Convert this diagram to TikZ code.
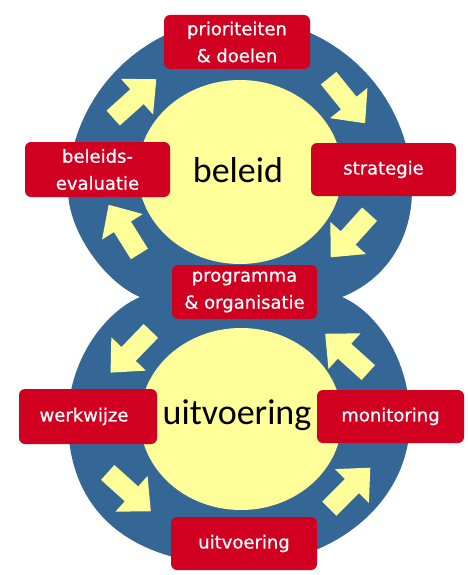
\documentclass[tikz,border=0pt]{standalone}
\usepackage{fontspec}
\setmainfont{DejaVu Sans}
\newfontfamily\boxfont[FakeBold=0.8]{DejaVu Sans}
\newfontfamily\calib{Carlito}
\definecolor{ringblue}{RGB}{52,102,150}
\definecolor{boxred}{RGB}{210,0,32}
\definecolor{coreyellow}{RGB}{255,255,153}
\begin{document}
\begin{tikzpicture}[x=1pt,y=-1pt,
  redbox/.style={fill=boxred, rounded corners=6pt, text=white, align=center,
    inner sep=0pt, font=\boxfont\fontsize{18}{27}\selectfont},
  coretext/.style={text=black, inner sep=0pt, font=\calib\fontsize{36}{40}\selectfont},
  blockarrow/.pic={\fill[coreyellow] (-30,-10) -- (2,-10) -- (2,-24) -- (28,0)
     -- (2,24) -- (2,10) -- (-30,10) -- cycle;}
]
\useasboundingbox (0,0) rectangle (468,575);

% blue rings
\fill[ringblue] (140,297) .. controls (106,283) and (68,232) .. (68,190)
  .. controls (68,95) and (145,18) .. (240,18)
  .. controls (335,18) and (412,95) .. (412,190)
  .. controls (412,240) and (385,280) .. (342,297)
  -- (240,325) -- cycle;
\fill[ringblue] (140,297) .. controls (105,312) and (68,360) .. (68,420)
  .. controls (68,515) and (135,565) .. (240,565)
  .. controls (330,565) and (410,505) .. (410,420)
  .. controls (410,360) and (377,312) .. (342,297)
  -- (240,272) -- cycle;

% yellow cores
\fill[coreyellow] (240,172) ellipse [x radius=102pt, y radius=92pt];
\fill[coreyellow] (241,419) ellipse [x radius=101pt, y radius=91pt];

% block arrows
\pic[rotate=42]   at (135.5,98)  {blockarrow};
\pic[rotate=-51]  at (347.5,101.5) {blockarrow};
\pic[rotate=-132] at (349.5,236.5) {blockarrow};
\pic[rotate=122]  at (123.5,228.5) {blockarrow};
\pic[rotate=-134] at (130,352.5) {blockarrow};
\pic[rotate=-42]  at (130,492.5) {blockarrow};
\pic[rotate=45]   at (350.5,487.5) {blockarrow};
\pic[rotate=138]  at (346,352.5) {blockarrow};

% centre texts
\node[coretext] (beleid) at (238,170) {beleid};
\node[coretext] (uitv) at (237,415) {uitvoering};

% red boxes
\node[redbox, minimum width=146pt, minimum height=54pt] (prio) at (237,42) {prioriteiten\\\& doelen};
\node[redbox, minimum width=145pt, minimum height=55pt] (eval) at (97.5,169.5) {beleids-\\evaluatie};
\node[redbox, minimum width=145pt, minimum height=53pt] (strat) at (383.5,169.5) {strategie};
\node[redbox, minimum width=145pt, minimum height=54pt] (prog) at (244.5,292) {programma\\\& organisatie};
\node[redbox, minimum width=138pt, minimum height=55pt] (werk) at (88,416.5) {werkwijze\hspace{8pt}};
\node[redbox, minimum width=147pt, minimum height=53pt] (mon) at (390.5,416.5) {monitoring};
\node[redbox, minimum width=146pt, minimum height=53pt] (uitbox) at (244,543.5) {uitvoering};
\end{tikzpicture}
\end{document}
